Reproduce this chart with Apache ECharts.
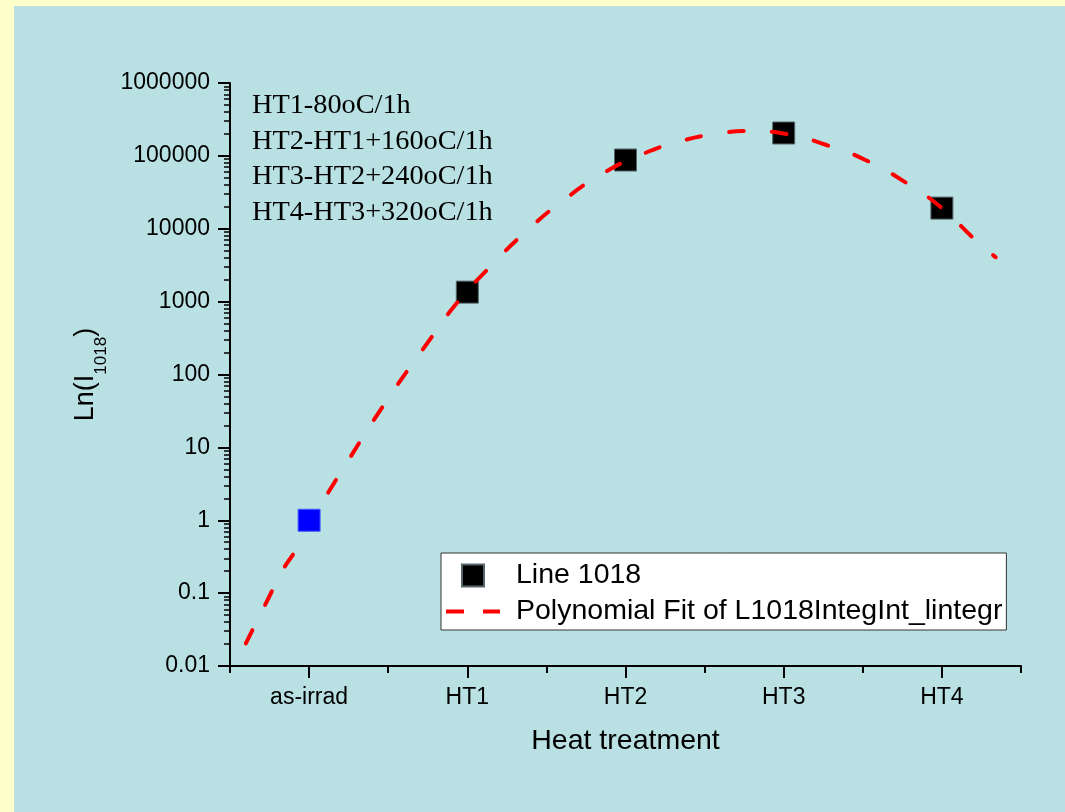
<!DOCTYPE html>
<html><head><meta charset="utf-8">
<script src="https://cdn.jsdelivr.net/npm/echarts@6/dist/echarts.min.js"></script>
<style>
html,body{margin:0;padding:0;background:#FFFFCC;}
#chart{position:absolute;left:14px;top:6px;width:1051px;height:806px;}
</style></head><body><div id="chart"></div>
<script>
const categories = ['as-irrad', 'HT1', 'HT2', 'HT3', 'HT4'];
const pointX = [1, 2, 3, 4, 5];
const pointY = [1, 1350, 87700, 206000, 19200];
const fitX = [0.60, 0.72, 0.84, 0.91, 1.00, 1.25, 1.50, 1.75, 1.93, 2.14, 2.38, 2.62, 2.85, 3.09, 3.33, 3.57, 3.80, 4.04, 4.27, 4.52, 4.76, 4.99, 5.22, 5.34];
const fitY = [0.0204, 0.0676, 0.219, 0.372, 0.871, 6.76, 46.8, 275, 933, 2950, 9550, 25700, 56200, 102000, 155000, 200000, 219000, 195000, 141000, 87100, 44700, 20000, 6760, 4070];
const yTickValues = [0.01, 0.1, 1, 10, 100, 1000, 10000, 100000, 1000000];
const yTickLabels = ['0.01', '0.1', '1', '10', '100', '1000', '10000', '100000', '1000000'];
const notes = ['HT1-80oC/1h', 'HT2-HT1+160oC/1h', 'HT3-HT2+240oC/1h', 'HT4-HT3+320oC/1h'];
const seriesNames = ['Line 1018', 'Polynomial Fit of L1018IntegInt_lintegr'];

const SANS = 'Liberation Sans, Arial, sans-serif';
const yMinor = [];
yTickValues.slice(0, -1).forEach(function (d) { for (let m = 2; m <= 9; m++) yMinor.push(d * m); });
const xMinor = [0.5].concat(pointX.map(function (x) { return x + 0.5; }));

const chart = echarts.init(document.getElementById('chart'));
chart.setOption({
  animation: false,
  backgroundColor: '#B9E0E3',
  grid: { left: 216, top: 77, width: 791, height: 583 },
  xAxis: [{
    type: 'value', min: 0.5, max: 5.5, position: 'bottom',
    name: 'Heat treatment', nameLocation: 'middle', nameGap: 61,
    nameTextStyle: { fontFamily: SANS, fontSize: 28.5, color: '#000' },
    axisLine: { show: true, lineStyle: { color: '#000', width: 2 } },
    axisTick: { show: true, customValues: pointX, length: 12, lineStyle: { color: '#000', width: 2 } },
    axisLabel: {
      customValues: pointX, margin: 20, fontFamily: SANS, fontSize: 23, color: '#000',
      formatter: function (v) { return categories[Math.round(v) - 1] || ''; }
    },
    splitLine: { show: false }
  }, {
    type: 'value', min: 0.5, max: 5.5, position: 'bottom', offset: 0,
    axisLine: { show: false },
    axisTick: { show: true, customValues: xMinor, length: 7, lineStyle: { color: '#000', width: 2 } },
    axisLabel: { show: false },
    splitLine: { show: false }
  }],
  yAxis: [{
    type: 'log', logBase: 10, min: 0.01, max: 1000000, position: 'left',
    name: '{a|Ln(I}{b|1018}{a|)}', nameLocation: 'middle', nameGap: 111, nameRotate: 90,
    nameTextStyle: {
      rich: {
        a: { fontFamily: SANS, fontSize: 27, lineHeight: 30, verticalAlign: 'top', color: '#000' },
        b: { fontFamily: SANS, fontSize: 17, lineHeight: 17, padding: [21, 0, 0, 0], verticalAlign: 'top', color: '#000' }
      }
    },
    axisLine: { show: true, lineStyle: { color: '#000', width: 2 } },
    axisTick: { show: true, customValues: yTickValues, length: 12, lineStyle: { color: '#000', width: 2 } },
    axisLabel: {
      customValues: yTickValues, margin: 20, fontFamily: SANS, fontSize: 23, color: '#000',
      formatter: function (v) { return yTickLabels[Math.round(Math.log10(v)) + 2]; }
    },
    splitLine: { show: false }
  }, {
    type: 'log', logBase: 10, min: 0.01, max: 1000000, position: 'left', offset: 0,
    axisLine: { show: false },
    axisTick: { show: true, customValues: yMinor, length: 6, lineStyle: { color: '#000', width: 1.5 } },
    axisLabel: { show: false },
    splitLine: { show: false }
  }],
  legend: {
    orient: 'vertical', left: 427, top: 547,
    data: [
      { name: seriesNames[0], icon: 'path://M0,0L1,0L1,1L0,1Z' },
      { name: seriesNames[1], itemStyle: { opacity: 0 }, lineStyle: { color: '#FF0000', width: 4, type: [18, 19], dashOffset: 0, cap: 'butt' } }
    ],
    itemWidth: 54, itemHeight: 22, itemGap: 7,
    padding: [8, 4, 4, 3],
    backgroundColor: '#FFFFFF', borderColor: '#333', borderWidth: 1, borderRadius: 0,
    selectedMode: false,
    textStyle: { fontFamily: SANS, fontSize: 28.5, color: '#000', width: 488, overflow: 'truncate', ellipsis: '', padding: [0, 0, 0, 11] }
  },
  graphic: [{
    type: 'text', left: 238, top: 82,
    style: { text: notes.join('\n'), fontFamily: 'Liberation Serif, Times New Roman, serif', fontSize: 28.3, lineHeight: 35.5, fill: '#000' }
  }],
  series: [{
    name: seriesNames[0], type: 'scatter', xAxisIndex: 0, yAxisIndex: 0, z: 2,
    symbol: 'rect', symbolSize: 22,
    itemStyle: { color: '#000000', borderColor: '#56666a', borderWidth: 1, opacity: 1 },
    data: pointX.slice(1).map(function (x, i) { return [x, pointY[i + 1]]; })
  }, {
    name: seriesNames[1], type: 'line', xAxisIndex: 0, yAxisIndex: 0, z: 3,
    smooth: true, symbol: 'none', showSymbol: false,
    lineStyle: { color: '#FF0000', width: 4, type: [15, 28], cap: 'round' },
    itemStyle: { color: '#FF0000' },
    data: fitX.map(function (x, i) { return [x, fitY[i]]; })
  }, {
    name: categories[0], type: 'scatter', xAxisIndex: 0, yAxisIndex: 0, z: 4,
    symbol: 'rect', symbolSize: 22,
    itemStyle: { color: '#0000FF', borderColor: '#4060ff', borderWidth: 1, opacity: 1 },
    data: [[pointX[0], pointY[0]]]
  }]
});
</script></body></html>
